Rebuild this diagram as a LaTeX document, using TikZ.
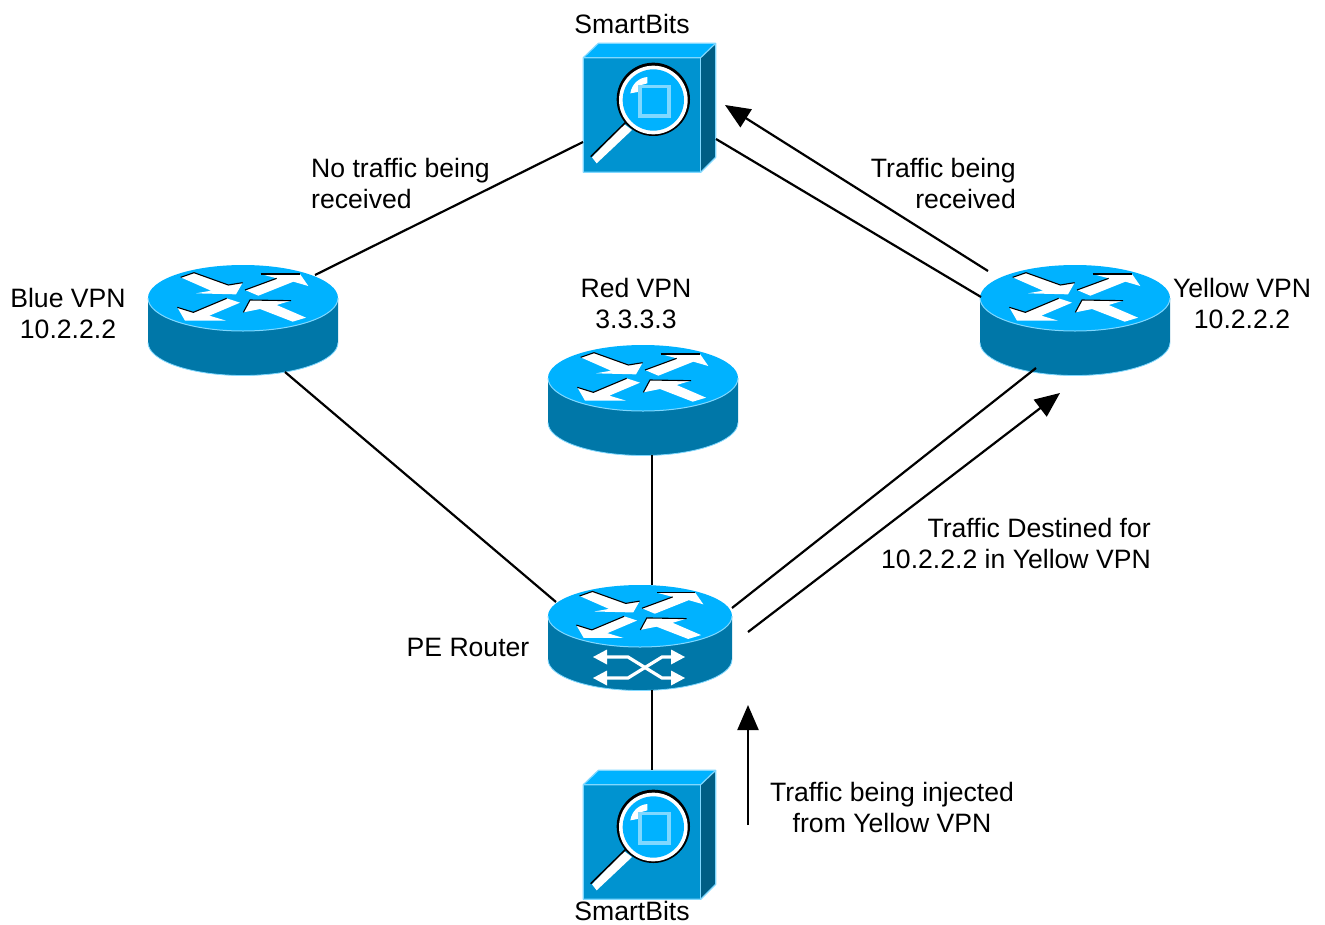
\documentclass[tikz,border=0pt]{standalone}
\usepackage{fontspec}
\setmainfont{Liberation Sans}
\usetikzlibrary{arrows.meta}
\definecolor{topblue}{HTML}{00B2FF}
\definecolor{sideblue}{HTML}{0077A8}
\definecolor{frontblue}{HTML}{0093D0}
\definecolor{darkblue}{HTML}{005E85}
\definecolor{edgeblue}{HTML}{80D8FF}
\tikzset{
  x=1pt,y=-1pt,
  label text/.style={inner sep=0pt,align=center,font=\fontsize{26.6}{31}\selectfont},
  link/.style={line width=2.2pt,black},
  flow/.style={line width=2.2pt,black,-{Triangle[length=25pt,width=21pt]}},
  ar/.style={fill=white,draw=none},
  arshade/.style={draw=black,line width=1.1pt,line join=miter},
  pics/router top/.style={code={%
    \begin{scope}[scale=#1/3,shift={(-339,-144)}]
      \fill[ar] (152,82)--(192,68)--(295,105)--(338,98)--(318,133)--(198,130)--(243,122)--cycle;
      \fill[ar] (345,120)--(440,85)--(392,72)--(510,72)--(535,108)--(490,95)--(385,137)--cycle;
      \fill[ar] (142,172)--(190,187)--(290,145)--(330,158)--(238,197)--(288,212)--(165,212)--cycle;
      \fill[ar] (340,187)--(360,150)--(483,152)--(440,165)--(528,203)--(488,215)--(390,177)--cycle;
      \draw[arshade] (152,82)--(192,68)--(295,105)--(338,98);
      \draw[arshade] (345,120)--(440,85);
      \draw[arshade] (392,72)--(510,72);
      \draw[arshade] (142,172)--(190,187)--(290,145);
      \draw[arshade] (340,187)--(360,150)--(483,152);
    \end{scope}
  }},
  pics/router body/.style args={#1/#2/#3}{code={%
    \fill[sideblue] (-#1,0)--(-#1,#3) arc[start angle=180,end angle=0,x radius=#1,y radius=#2] --(#1,0)--cycle;
    \draw[edgeblue,line width=0.8pt] (-#1,#3) arc[start angle=180,end angle=0,x radius=#1,y radius=#2];
    \fill[topblue] (0,0) ellipse[x radius=#1,y radius=#2];
    \draw[edgeblue,line width=1pt] (-#1,0) arc[start angle=180,end angle=0,x radius=#1,y radius=#2];
  }},
  pics/smartbits/.style={code={%
    \begin{scope}[scale=1/3]
      \fill[topblue] (40,83)--(85,40)--(437,40)--(392,83)--cycle;
      \fill[darkblue] (392,83)--(437,40)--(437,382)--(392,427)--cycle;
      \fill[frontblue] (40,83) rectangle (392,427);
      \draw[edgeblue,line width=1.2pt,line join=round] (40,83)--(85,40)--(437,40)--(392,83)--cycle;
      \draw[edgeblue,line width=1.2pt,line join=round] (437,40)--(437,382)--(392,427)--(40,427)--(40,83);
      \draw[edgeblue,line width=1.2pt] (392,83)--(392,427);
      \fill[white] (66,382)--(162,282)--(186,300)--(80,400)--cycle;
      \draw[black,line width=1.5pt] (62,380)--(166,278);
      \fill[black] (250,208) circle[radius=110];
      \fill[white] (250,210) circle[radius=103];
      \fill[topblue] (250,210) circle[radius=92];
      \fill[white] (181,190) .. controls (186,160) and (208,143) .. (232,141) -- (232,160) -- (214,165) -- (205,180) -- (203,186) -- cycle;
      \draw[edgeblue,line width=3.2pt] (210,170) rectangle (297,258);
    \end{scope}
  }}
}
\begin{document}
\begin{tikzpicture}
\useasboundingbox (0,0) rectangle (1325,924);
\fill[white] (0,0) rectangle (1325,924);

% named attachment points
\coordinate (blueNE) at (315,275);
\coordinate (blueS) at (285,372);
\coordinate (redS) at (652,455);
\coordinate (yellowW) at (981,297);
\coordinate (yellowS) at (1036,368);
\coordinate (peNW) at (556,602);
\coordinate (peN) at (652,585);
\coordinate (peNE) at (732,608);
\coordinate (peS) at (652,690);
\coordinate (topL) at (583,142);
\coordinate (topR) at (716,139);
\coordinate (botN) at (652,770);
\coordinate (f1a) at (988,271);
\coordinate (f1b) at (725,105);
\coordinate (f2a) at (748,632);
\coordinate (f2b) at (1060,393);
\coordinate (f3a) at (748,825);
\coordinate (f3b) at (748,705);

% icons
\pic at (243,298) {router body={95/33/44.5}};
\pic at (243,298) {router top=1};
\pic at (643,378) {router body={95/33/44.5}};
\pic at (643,378) {router top=1};
\pic at (1075,298) {router body={95/33/44.5}};
\pic at (1075,298) {router top=1};
\pic at (640,616) {router body={92/31/43.5}};
\pic at (640,616) {router top=0.97};
\pic at (570,30) {smartbits};
\pic at (570,757) {smartbits};

% PE switch arrows
\begin{scope}[white,line width=3.2pt]
  \draw (603,657) -- (628,657) -- (662,678) -- (672,678);
  \draw (603,678) -- (628,678) -- (662,657) -- (672,657);
  \fill (593,657)--(607,649.5)--(607,664.5)--cycle;
  \fill (593,678)--(607,670.5)--(607,685.5)--cycle;
  \fill (685,657)--(671,649.5)--(671,664.5)--cycle;
  \fill (685,678)--(671,670.5)--(671,685.5)--cycle;
\end{scope}

% connectors
\draw[link] (blueNE) -- (topL);
\draw[link] (blueS) -- (peNW);
\draw[link] (redS) -- (peN);
\draw[link] (yellowW) -- (topR);
\draw[link] (yellowS) -- (peNE);
\draw[link] (peS) -- (botN);
\draw[flow] (f1a) -- (f1b);
\draw[flow] (f2a) -- (f2b);
\draw[flow] (f3a) -- (f3b);

% labels
\node[label text] (tSB) at (632,24) {SmartBits};
\node[label text] (bSB) at (632,911) {SmartBits};
\node[label text,align=left,anchor=west] (noT) at (311,183.5) {No traffic being\\received};
\node[label text,align=right,anchor=east] (yesT) at (1016,183.5) {Traffic being\\received};
\node[label text] (bV) at (68,313.5) {Blue VPN\\10.2.2.2};
\node[label text] (rV) at (636,303.5) {Red VPN\\3.3.3.3};
\node[label text] (yV) at (1242,303.5) {Yellow VPN\\10.2.2.2};
\node[label text,align=right,anchor=east] (dst) at (1151,543.5) {Traffic Destined for\\10.2.2.2 in Yellow VPN};
\node[label text] (pe) at (468,647.5) {PE Router};
\node[label text] (inj) at (892,807.5) {Traffic being injected\\from Yellow VPN};
\end{tikzpicture}
\end{document}
